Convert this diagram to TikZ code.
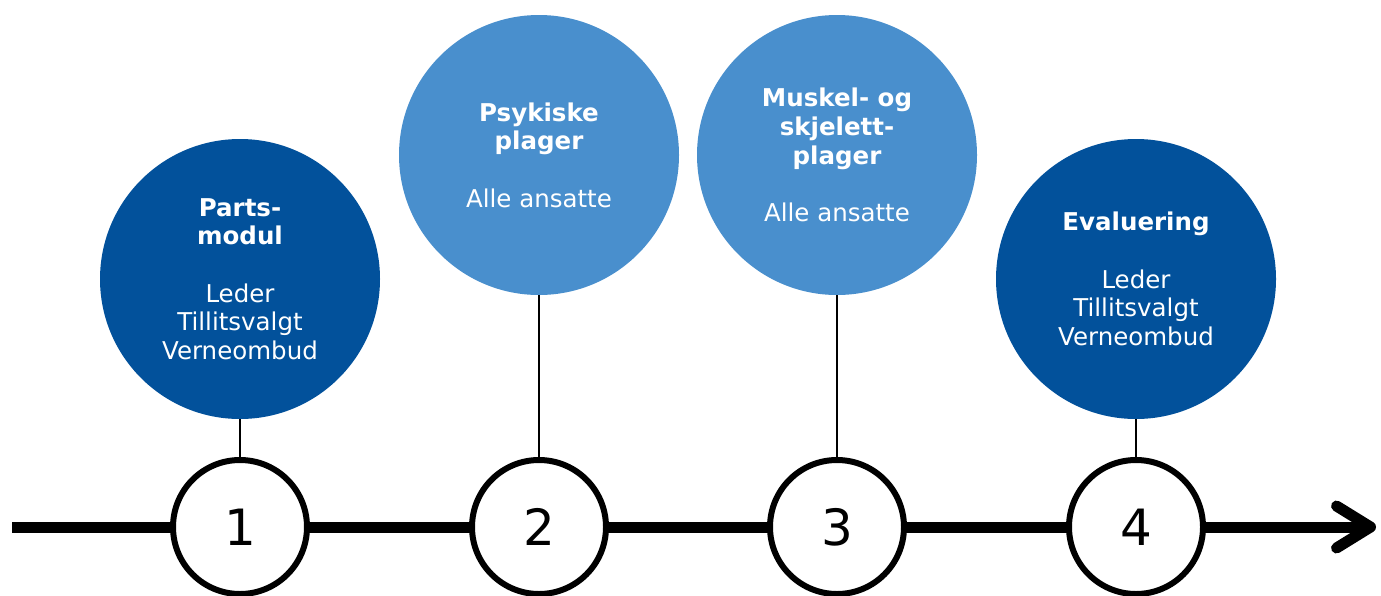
\documentclass[tikz,border=0pt]{standalone}
\usepackage{fontspec}
\setmainfont{DejaVu Sans}
\usetikzlibrary{arrows.meta}
\definecolor{darkblue}{RGB}{2,81,155}
\definecolor{lightblue}{RGB}{73,143,205}
\tikzset{
  topic/.style = {circle, minimum size=280pt, inner sep=0pt, text=white, align=center,
                  font=\fontsize{24.5}{28.7}\selectfont},
  stage/.style = {circle, draw, fill=white, line width=6pt, minimum size=134pt, inner sep=0pt,
                  font=\fontsize{50}{60}\selectfont},
  link/.style  = {line width=2pt}
}
\begin{document}
\begin{tikzpicture}[x=1pt, y=-1pt]
\useasboundingbox (0,0) rectangle (1381,595);
% time axis
\coordinate (start) at (12,527);
\coordinate (end) at (1376,527);
\draw[line width=11pt, -{Straight Barb[length=34pt, width=42pt, line cap=round, line join=round]}] (start) -- (end);
% modules
\node[topic, fill=darkblue] (m1) at (240,279) {\textbf{Parts-}\\\textbf{modul}\\[28.7pt]Leder\\Tillitsvalgt\\Verneombud};
\node[topic, fill=lightblue] (m2) at (539,155) {\textbf{Psykiske}\\\textbf{plager}\\[28.7pt]Alle ansatte};
\node[topic, fill=lightblue] (m3) at (837,155) {\textbf{Muskel- og}\\\textbf{skjelett-}\\\textbf{plager}\\[28.7pt]Alle ansatte};
\node[topic, fill=darkblue] (m4) at (1136,279) {\textbf{Evaluering}\\[28.7pt]Leder\\Tillitsvalgt\\Verneombud};
% steps
\node[stage] (s1) at (240,527) {1};
\node[stage] (s2) at (539,527) {2};
\node[stage] (s3) at (837,527) {3};
\node[stage] (s4) at (1136,527) {4};
\draw[link] (m1) -- (s1);
\draw[link] (m2) -- (s2);
\draw[link] (m3) -- (s3);
\draw[link] (m4) -- (s4);
\end{tikzpicture}
\end{document}
